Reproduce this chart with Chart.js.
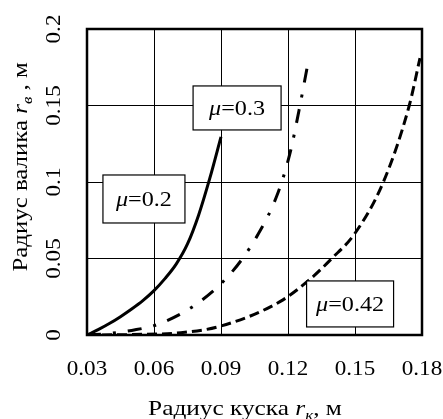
<!DOCTYPE html>
<html>
<head>
<meta charset="utf-8">
<script src="https://cdn.jsdelivr.net/npm/chart.js@4/dist/chart.umd.min.js"></script>
<style>
  html, body { margin: 0; padding: 0; background: #fff; }
  #wrap { width: 443px; height: 419px; }
</style>
</head>
<body>
<div id="wrap"><canvas id="radiusChart" width="443" height="419"></canvas></div>
<script>
// axis ticks
const xTicks = [0.03, 0.06, 0.09, 0.12, 0.15, 0.18];
const yTicks = [0, 0.05, 0.1, 0.15, 0.2];

// mu = 0.2 (solid)
const mu02X = [0.030, 0.035, 0.040, 0.045, 0.050, 0.055, 0.060, 0.065, 0.070, 0.075, 0.080, 0.085, 0.090];
const mu02Y = [0, 0.0035, 0.0075, 0.012, 0.017, 0.0225, 0.029, 0.037, 0.0465, 0.0595, 0.0785, 0.1025, 0.1295];

// mu = 0.3 (dash-dot)
const mu03X = [0.030, 0.040, 0.050, 0.0622, 0.0799, 0.0948, 0.1060, 0.1150, 0.1209, 0.1249, 0.1287];
const mu03Y = [0, 0.001, 0.003, 0.0072, 0.0211, 0.0410, 0.0643, 0.0910, 0.1188, 0.1466, 0.1758];

// mu = 0.42 (dashed)
const mu042X = [0.030, 0.050, 0.072, 0.0896, 0.1164, 0.1291, 0.1396, 0.150, 0.1627, 0.1743, 0.1791];
const mu042Y = [0, 0.0003, 0.0015, 0.0057, 0.0218, 0.0355, 0.050, 0.0665, 0.100, 0.150, 0.181];

const seriesLabels = ['0.2', '0.3', '0.42'];

// where the boxed labels sit (data coords of box centre) and box size in px
const labelBoxes = [
    { x: 0.0555, y: 0.0889, w: 82, h: 48 },
    { x: 0.0972, y: 0.1484, w: 88, h: 44 },
    { x: 0.1478, y: 0.0203, w: 87, h: 46 }
];

const SERIF = '"Liberation Serif", "DejaVu Serif", serif';

function toPoints(xs, ys) {
    return xs.map((x, i) => ({ x: x, y: ys[i] }));
}

// text from parts (normal / italic / subscript), centred on x, stretched along the line
function drawRich(ctx, parts, x, y, size, stretch) {
    const fontOf = p => (p.italic ? 'italic ' : '') + (p.sub ? Math.round(size * 0.68) : size) + 'px ' + SERIF;
    let total = 0;
    parts.forEach(p => { ctx.font = fontOf(p); total += ctx.measureText(p.t).width; });
    ctx.save();
    ctx.translate(x, y);
    ctx.scale(stretch || 1, 1);
    let cx = -total / 2;
    ctx.textAlign = 'left';
    ctx.textBaseline = 'alphabetic';
    parts.forEach(p => {
        ctx.font = fontOf(p);
        ctx.fillText(p.t, cx, p.sub ? size * 0.22 : 0);
        cx += ctx.measureText(p.t).width;
    });
    ctx.restore();
}

const decorPlugin = {
    id: 'decor',
    afterDatasetsDraw(chart) {
        const ctx = chart.ctx;
        const xs = chart.scales.x, ys = chart.scales.y;
        const area = chart.chartArea;
        ctx.save();
        ctx.fillStyle = '#000';

        // boxed mu labels
        labelBoxes.forEach((b, i) => {
            const cx = xs.getPixelForValue(b.x);
            const cy = ys.getPixelForValue(b.y);
            ctx.fillStyle = '#fff';
            ctx.fillRect(cx - b.w / 2, cy - b.h / 2, b.w, b.h);
            ctx.strokeStyle = '#000';
            ctx.lineWidth = 1.2;
            ctx.strokeRect(cx - b.w / 2, cy - b.h / 2, b.w, b.h);
            ctx.fillStyle = '#000';
            drawRich(ctx, [
                { t: 'μ', italic: true },
                { t: '=' + seriesLabels[i] }
            ], cx, cy + 7, 21, 1.15);
        });

        // frame
        ctx.strokeStyle = '#000';
        ctx.lineWidth = 2.5;
        ctx.strokeRect(area.left, area.top, area.right - area.left, area.bottom - area.top);

        // x tick labels
        xTicks.forEach(v => {
            drawRich(ctx, [{ t: v.toFixed(2) }], xs.getPixelForValue(v), 374.5, 21, 1.1);
        });

        // rotated y tick labels
        yTicks.forEach(v => {
            const py = ys.getPixelForValue(v);
            ctx.save();
            ctx.translate(60, py);
            ctx.rotate(-Math.PI / 2);
            drawRich(ctx, [{ t: String(v) }], 0, 0, 21, 1.1);
            ctx.restore();
        });

        // y title
        ctx.save();
        ctx.translate(27, 167);
        ctx.rotate(-Math.PI / 2);
        drawRich(ctx, [
            { t: 'Радиус валика ' },
            { t: 'r', italic: true },
            { t: 'в', italic: true, sub: true },
            { t: ' , м' }
        ], 0, 0, 22, 1.13);
        ctx.restore();

        // x title
        drawRich(ctx, [
            { t: 'Радиус куска ' },
            { t: 'r', italic: true },
            { t: 'к', italic: true, sub: true },
            { t: ', м' }
        ], 245, 415, 22, 1.15);

        ctx.restore();
    }
};

function drawChart(canvasId) {
    const canvas = document.getElementById(canvasId);
    const ctx = canvas.getContext('2d');
    const lineBase = {
        borderColor: '#000',
        borderWidth: 3,
        pointRadius: 0,
        fill: false,
        cubicInterpolationMode: 'monotone'
    };
    return new Chart(ctx, {
        type: 'line',
        data: {
            datasets: [
                Object.assign({ label: 'μ=0.2', data: toPoints(mu02X, mu02Y) }, lineBase),
                Object.assign({ label: 'μ=0.3', data: toPoints(mu03X, mu03Y), borderDash: [14, 12, 3, 12] }, lineBase),
                Object.assign({ label: 'μ=0.42', data: toPoints(mu042X, mu042Y), borderDash: [10, 5] }, lineBase)
            ]
        },
        options: {
            responsive: false,
            animation: false,
            layout: { padding: { top: 29, right: 21, left: 0, bottom: 0 } },
            plugins: { legend: { display: false }, tooltip: { enabled: false } },
            scales: {
                x: {
                    type: 'linear',
                    min: 0.03,
                    max: 0.18,
                    afterBuildTicks: s => { s.ticks = xTicks.map(v => ({ value: v })); },
                    afterFit: s => { s.height = 84; s.paddingLeft = 0; s.paddingRight = 0; },
                    ticks: { display: false },
                    grid: { color: '#000', lineWidth: 1, drawTicks: false },
                    border: { display: false }
                },
                y: {
                    type: 'linear',
                    min: 0,
                    max: 0.2,
                    afterBuildTicks: s => { s.ticks = yTicks.map(v => ({ value: v })); },
                    afterFit: s => { s.width = 87; s.paddingTop = 0; s.paddingBottom = 0; },
                    ticks: { display: false },
                    grid: { color: '#000', lineWidth: 1, drawTicks: false },
                    border: { display: false }
                }
            }
        },
        plugins: [decorPlugin]
    });
}

drawChart('radiusChart');
</script>
</body>
</html>
